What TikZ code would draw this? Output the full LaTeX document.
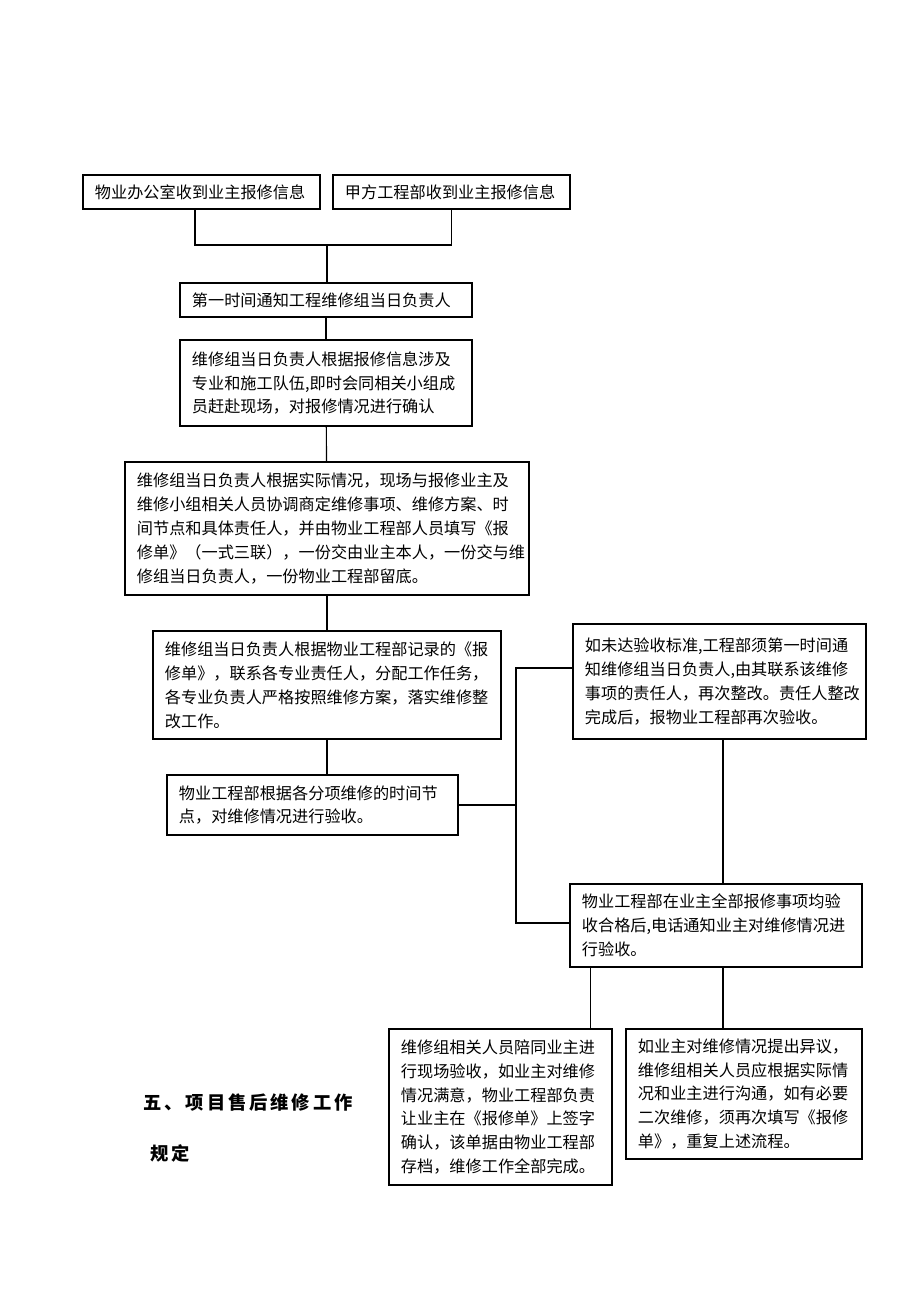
\documentclass[tikz,border=0pt]{standalone}
\usepackage{fontspec}
\setmainfont{Noto Sans CJK SC}
\newfontfamily\headfont[LetterSpace=16]{Noto Sans CJK SC}
\usepackage{tikz}
\usetikzlibrary{positioning}

\begin{document}
\begin{tikzpicture}[x=0.025cm, y=-0.025cm, line width=0.8pt,
  flowbox/.style={draw, rectangle, align=left, inner xsep=0.3cm,
    font=\fontsize{11.5pt}{17pt}\selectfont}]
  \useasboundingbox (0,0) rectangle (920,1302);
  % reports
  \node[flowbox, text width=5.325cm, minimum height=0.85cm] (A1) at (201.5,192) {物业办公室收到业主报修信息};
  \node[flowbox, text width=5.325cm, minimum height=0.85cm] (A2) at (451.5,192) {甲方工程部收到业主报修信息};
  \node[flowbox, text width=6.7cm, minimum height=0.85cm] (B) at (326,300) {第一时间通知工程维修组当日负责人};
  \node[flowbox, text width=6.7cm, minimum height=2.15cm] (C) at (326,383)
    {维修组当日负责人根据报修信息涉及\\专业和施工队伍,即时会同相关小组成\\员赶赴现场，对报修情况进行确认};
  \node[flowbox, text width=9.5cm, minimum height=3.325cm] (D) at (327,528.5)
    {维修组当日负责人根据实际情况，现场与报修业主及\\维修小组相关人员协调商定维修事项、维修方案、时\\间节点和具体责任人，并由物业工程部人员填写《报\\修单》（一式三联），一份交由业主本人，一份交与维\\修组当日负责人，一份物业工程部留底。};
  \node[flowbox, text width=8.1cm, minimum height=2.7cm] (E) at (327,685)
    {维修组当日负责人根据物业工程部记录的《报\\修单》，联系各专业责任人，分配工作任务，\\各专业负责人严格按照维修方案，落实维修整\\改工作。};
  \node[flowbox, text width=6.675cm, minimum height=1.5cm] (F) at (312.5,805)
    {物业工程部根据各分项维修的时间节\\点，对维修情况进行验收。};
  % acceptance
  \node[flowbox, text width=6.725cm, minimum height=2.875cm] (G) at (719.5,681.5)
    {如未达验收标准,工程部须第一时间通\\知维修组当日负责人,由其联系该维修\\事项的责任人，再次整改。责任人整改\\完成后，报物业工程部再次验收。};
  \node[flowbox, text width=6.7cm, minimum height=2.075cm] (H) at (716,925.5)
    {物业工程部在业主全部报修事项均验\\收合格后,电话通知业主对维修情况进\\行验收。};
  \node[flowbox, text width=4.975cm, minimum height=3.9cm] (I) at (500.5,1107)
    {维修组相关人员陪同业主进\\行现场验收，如业主对维修\\情况满意，物业工程部负责\\让业主在《报修单》上签字\\确认，该单据由物业工程部\\存档，维修工作全部完成。};
  \node[flowbox, text width=5.3cm, minimum height=3.25cm] (J) at (744,1094)
    {如业主对维修情况提出异议，\\维修组相关人员应根据实际情\\况和业主进行沟通，如有必要\\二次维修，须再次填写《报修\\单》，重复上述流程。};
  % heading
  \node[anchor=west, inner sep=0pt, font=\headfont\bfseries\fontsize{13pt}{16pt}\selectfont] (T1) at (143,1103) {五、项目售后维修工作};
  \node[anchor=west, inner sep=0pt, font=\headfont\bfseries\fontsize{13pt}{16pt}\selectfont] (T2) at (150,1153) {规定};

  \coordinate (M) at (327,245);
  \path (A1.south) ++(-6.5,0) coordinate (A1s);
  \draw (A1s) |- (M) -| (A2.south);
  \draw (M) -- (M |- B.north);
  \draw (B) -- (C);
  \draw (C) -- (D);
  \draw (D) -- (E);
  \draw (E.south) -- (E.south |- F.north);
  \coordinate (R1) at (516,668);
  \coordinate (R2) at (516,923);
  \draw (F.east) -- (F.east -| R1);
  \draw (G.west |- R1) -- (R1) -- (R2) -- (H.west |- R2);
  \path (G.south) ++(3.5,0) coordinate (G1);
  \draw (G1) -- (G1 |- H.north);
  \path (H.south west) ++(21,0) coordinate (H1);
  \path (H.south) ++(7,0) coordinate (H2);
  \draw (H1) -- (H1 |- I.north);
  \draw (H2) -- (H2 |- J.north);
\end{tikzpicture}
\end{document}
